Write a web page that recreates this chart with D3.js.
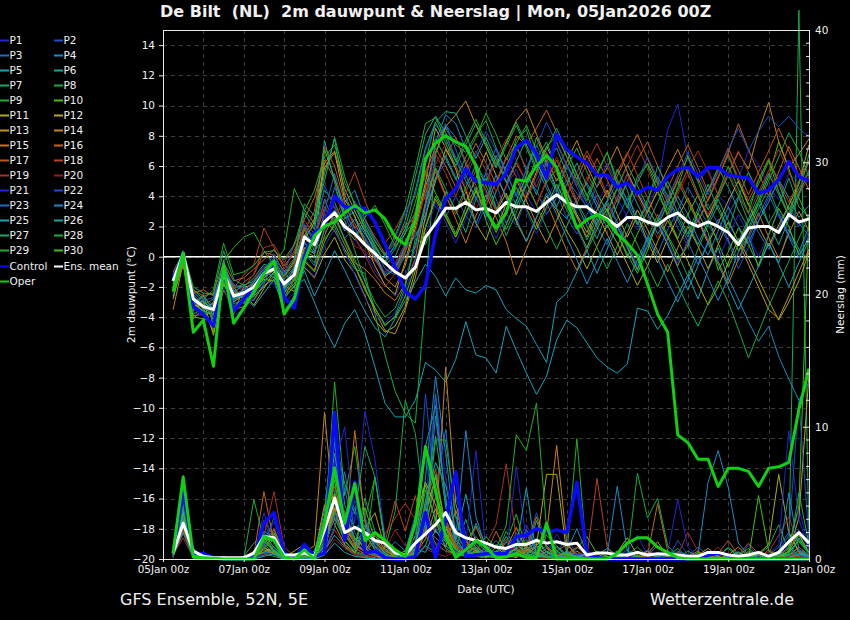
<!DOCTYPE html>
<html>
<head>
<meta charset="utf-8">
<script src="https://cdn.jsdelivr.net/npm/d3@7"></script>
<style>
  body { margin: 0; background: #000; }
  svg text { font-family: "DejaVu Sans", sans-serif; fill: #f0f0f0; }
</style>
</head>
<body>
<svg id="chart" width="850" height="620"></svg>
<script>
// ---- run info ----
const runStart = Date.UTC(2026, 0, 5, 0);
const runEnd = Date.UTC(2026, 0, 21, 0);
const stepHours = 6;
const stepCount = 64; // 05Jan 06z .. 21Jan 00z

const dateTicks = ["2026-01-05", "2026-01-07", "2026-01-09", "2026-01-11", "2026-01-13", "2026-01-15", "2026-01-17", "2026-01-19", "2026-01-21"];
const dewTicks = [-20, -18, -16, -14, -12, -10, -8, -6, -4, -2, 0, 2, 4, 6, 8, 10, 12, 14];
const rainTicks = [0, 10, 20, 30, 40];
const rainMinorTicks = [1, 2, 3, 4, 5, 6, 7, 8, 9, 12, 14, 16, 18, 22, 24, 26, 28, 31, 32, 33, 34, 35, 36, 37, 38, 39];

// ---- main runs: 2m dew point (°C) ----
const dewControl = [-1.5,0.25,-3.3,-3.8,-4.6,-0.9,-3.6,-2.8,-2.0,-1.0,-0.5,-2.7,-3.4, 0.0,1.6,2.0,4.0,3.3,3.2,3.2,2.3,0.8,-0.7,-2.3, -2.8,-1.9,1.5,3.8,4.5,5.8,5.0,4.9,4.8,5.5,7.2,7.7,6.8,5.2,8.1,7.1,6.6, 6.2,5.4,5.4,4.6,4.9,4.2,4.6,4.4,5.3,5.8,5.9,5.3,5.9,5.9,5.4,5.3,5.2,4.2,4.4,5.1,6.3,5.3,5.0];
const dewOper = [-2.3,0.25,-5.0,-4.2,-7.25,-0.6,-4.4,-3.4,-2.3,-1.1,-0.3,-3.8,-2.8, -0.3,1.4,2.0,2.3,2.9,3.4,2.9,3.1,2.5,1.3,0.8, 2.4,6.5,7.5,8.0,7.6,7.3,6.0,3.0,1.9,2.9,5.1,5.0,6.0,6.7,5.9,3.8,1.9, 2.45,2.8,2.4,1.5,0.9,0.1,-1.8,-3.8,-5.0,-11.8,-12.3,-13.4,-13.4,-15.2,-14.0,-14.0,-14.2,-15.2,-14.0,-13.9,-13.6,-10.1,-7.4];
const dewMean = [-1.6,0.2,-2.8,-3.3,-3.5,-1.1,-2.6,-2.4,-2.0,-1.1,-0.8,-1.8,-1.2, 1.3,0.8,2.3,2.9,2.0,1.5,0.8,0.2,-0.4,-1.0,-1.4, -0.7,1.3,2.2,3.2,3.2,3.6,3.1,3.2,2.9,3.6,3.3,3.3,3.0,3.6,4.1,3.6,3.3, 3.3,2.8,2.5,2.0,2.6,2.6,2.3,2.1,2.6,2.9,2.3,2.0,2.3,2.0,1.6,0.8,1.9,2.0,2.0,1.6,2.8,2.3,2.5];

// ---- main runs: 6h precipitation (mm) ----
const rainControl = [0.45,5.0,0.45,0.4,0.1,0,0,0, 0.1,2.7,3.5,0.45,0,1.1,0.2, 0.45,11.1,1.4,5.8,0.45,0.6,0.1,0,0, 0.2,3.5,0.1,2.9,6.6,0.2,0.3,0.4, 0.4,0.4,1.7,1.8,2.3,2.0,2.2,2.0,5.8, 0.4,0.1,0,0,0,0,0,0,0,0,0,0, 0.3,0.45,0.3,0,0,0,0,0,0,0,0];
const rainOper = [0.45,6.2,0.15,0.1,0.05,0,0,0, 0,1.7,1.4,0.15,0,0.7,0, 2.7,6.9,2.7,5.7,1.4,2.0,1.4,0.7,0.2, 2.7,8.5,5.2,1.7,0.1,0.7,1.4,0.9, 0.1,0.15,0.4,0.1,0.1,2.7,0,0,0, 0,0,0,0.4,1.2,1.6,1.6,0.9,0.5,0.1,0,0, 0,0,0,0,0,0,0,0,0,0,0];
const rainMean = [0.45,2.7,0.6,0.2,0.1,0.1,0.1,0.1, 0.45,1.7,1.6,0.3,0.3,0.45,0.2, 2.2,4.6,2.0,2.4,2.0,1.4,1.2,0.45,0.3, 1.2,1.9,2.6,3.5,2.0,1.6,1.4,1.2, 0.9,0.8,1.1,1.1,1.4,1.2,1.3,1.1,1.2, 0.3,0.45,0.45,0.3,0.3,0.5,0.3,0.4,0.35,0.3,0.2,0.2, 0.5,0.5,0.3,0.2,0.3,0.5,0.2,0.5,1.3,2.0,1.2];

// ---- perturbed members: dew point (°C) ----
const dewP1 = [-1.2,0.1,-3.1,-2.9,-3.8,-1.5,-3.0,-2.2,-1.6,-0.6,-1.2,-2.5,-0.8, 1.5,0.8,2.6,3.4,1.9,1.1,0.3,-0.9,-1.8,-2.6,-1.2, 0.4,3.2,5.1,6.3,5.4,4.8,5.9,4.2,3.1,4.6,5.8,4.1,2.9,3.7,5.2,4.4,3.0, 2.1,3.5,4.8,3.9,2.6,1.8,3.2,4.7,8.4,10.1,6.5,4.9,5.8,4.1,3.3,5.2,7.0,6.1,4.6,3.8,5.5,4.9,6.2];
const dewP2 = [-1.8,0.3,-2.6,-3.5,-3.2,-0.9,-2.9,-2.1,-2.4,-1.5,-0.4,-1.6,-1.5, 0.8,1.6,3.1,2.5,1.2,2.0,1.3,0.2,-1.1,-0.5,0.9, 1.8,4.5,3.3,2.6,4.0,2.7,1.9,3.4,4.9,2.8,2.1,3.9,5.0,6.4,4.2,2.6,1.5, 2.8,4.1,3.0,1.7,2.9,4.4,3.1,2.2,3.6,1.9,0.7,2.4,3.5,2.1,1.0,-0.8,0.6,2.3,3.9,4.8,3.1,2.0,2.7];
const dewP3 = [-1.4,0.0,-2.3,-3.0,-4.1,-1.3,-2.2,-2.8,-2.9,-1.8,-0.2,-0.9,-2.1, 0.3,-0.6,1.9,4.6,2.8,1.9,0.8,-0.1,-1.3,-0.8,0.4, 1.5,2.4,6.8,8.7,7.9,6.1,4.3,5.5,3.8,2.2,3.6,5.3,4.4,2.8,3.9,5.1,4.2, 3.3,2.0,0.8,2.5,3.9,2.7,1.4,0.2,1.8,3.0,4.6,3.4,2.1,1.1,2.8,4.0,2.9,1.6,0.5,1.9,3.3,2.2,1.4];
const dewP4 = [-2.0,0.2,-2.9,-3.7,-3.3,-0.6,-2.4,-3.1,-2.6,-0.9,-1.4,-2.2,-0.6, 2.1,1.2,3.8,2.1,3.6,4.4,2.5,1.1,0.0,0.6,1.8, 2.9,4.0,7.6,9.4,8.8,7.1,6.2,4.9,6.7,5.0,3.4,4.7,6.0,4.5,3.2,2.5,3.8, 4.9,3.6,2.3,3.8,5.5,4.2,2.9,1.5,2.6,4.0,2.8,1.2,0.1,1.7,3.3,2.0,0.9,2.4,3.6,5.1,3.9,2.6,3.4];
const dewP5 = [-2.2,0.1,-3.4,-3.1,-4.2,-1.6,-3.3,-2.7,-2.1,-1.3,-0.9,-2.8,-1.9, -1.5,-3.0,-4.7,-6.0,-4.4,-3.5,-5.0,-7.3,-9.7,-10.6,-10.6, -9.5,-7.0,-7.5,-8.3,-6.8,-4.3,-6.5,-6.7,-7.7,-4.6,-6.2,-7.7,-9.1,-7.9,-5.5,-4.2,-4.7, -5.7,-6.7,-7.3,-7.7,-7.1,-3.4,-3.6,-4.8,-3.9,-2.5,-1.2,-2.8,-0.9,0.6,-1.5,0.3,1.4,-0.7,0.9,-0.4,1.8,0.5,-0.3];
const dewP6 = [-1.5,0.3,-2.5,-3.2,-2.8,-1.0,-1.9,-2.0,-1.4,-0.5,-0.7,-1.1,-0.3, 2.9,1.8,5.5,7.8,4.1,2.6,1.5,0.6,-0.3,0.8,2.4, 5.3,8.1,9.3,8.2,6.4,5.0,3.9,2.6,4.3,6.0,7.4,5.7,4.1,6.3,7.2,5.5,3.6, 2.4,1.2,2.9,4.5,3.4,2.1,3.8,5.3,4.0,2.6,1.3,2.9,4.4,5.9,4.6,3.1,1.9,3.5,2.2,0.8,2.5,4.0,6.8];
const dewP7 = [-2.4,-0.2,-3.6,-2.8,-3.9,-1.9,-2.7,-2.3,-2.3,-1.7,-1.0,-2.0,-1.6, 0.5,1.3,2.2,3.0,2.4,0.4,-1.6,-3.4,-4.6,-3.9,-2.0, 1.2,0.8,2.5,4.3,3.1,1.6,3.8,5.2,3.3,1.4,2.9,4.8,6.5,7.6,5.9,4.2,2.7, 1.1,2.6,3.7,2.3,0.9,-0.6,1.2,2.8,1.4,0.2,-1.3,0.5,2.1,3.4,1.8,0.4,1.7,3.2,4.5,2.9,1.4,0.3,2.0];
const dewP8 = [-1.9,0.3,-3.0,-3.6,-3.0,-0.8,-2.1,-1.8,-2.5,-1.2,-0.3,-1.5,-0.7, 1.9,0.4,1.2,2.0,0.3,-0.8,-1.1,-3.8,-6.5,-8.9,-10.4, -11.0,-2.5,6.8,8.5,7.4,6.9,8.1,9.0,7.2,5.6,7.8,8.4,6.3,4.9,5.8,7.1,5.4, 4.0,5.6,6.9,5.1,3.7,4.9,6.2,4.8,3.1,4.4,5.8,4.2,2.6,3.9,5.4,4.0,2.3,3.5,5.0,6.6,8.2,7.0,5.3];
const dewP9 = [-2.6,-0.5,-3.3,-2.5,-4.5,-0.3,0.6,1.3,1.6,0.4,-0.6,0.5,4.5, 3.1,2.2,4.4,3.6,2.0,1.1,2.6,3.4,2.1,0.7,1.5, 3.6,6.2,7.8,6.5,5.1,6.6,7.9,9.5,8.1,6.4,7.5,8.7,7.0,5.6,4.3,5.9,7.2, 5.6,4.2,3.0,4.6,6.1,4.7,3.3,2.0,3.5,5.0,3.6,2.3,3.8,5.3,6.7,5.0,3.4,4.8,6.3,4.9,3.1,4.5,5.7];
const dewP10 = [-2.1,0.0,-3.8,-3.4,-5.0,-1.2,-2.8,-2.6,-2.0,-1.5,-1.6,-2.4,-1.8, 0.4,0.0,7.1,5.2,2.9,3.4,1.9,0.7,-0.4,-1.1,0.3, 2.8,5.7,4.2,2.9,1.5,3.3,4.6,2.4,0.8,2.1,3.7,5.4,7.9,6.2,4.5,3.1,1.9, 0.4,1.8,3.2,1.6,0.0,1.5,3.0,4.3,2.7,1.2,2.8,4.1,2.5,0.9,-0.7,0.8,2.3,3.7,5.3,7.6,5.8,3.9,2.4];
const dewP11 = [-1.7,0.1,-3.5,-2.9,-5.2,-1.8,-3.0,-2.5,-3.2,-2.1,-1.0,-1.9,-2.3, -0.7,-1.4,0.2,1.3,-0.2,-1.1,-2.6,-4.2,-5.0,-4.6,-3.3, -0.9,2.7,5.0,7.1,6.0,4.4,2.2,1.1,3.0,4.2,2.3,1.0,2.6,4.0,3.1,1.7,0.6, -0.8,0.7,2.1,0.9,-0.5,-1.9,-0.6,1.0,2.4,1.1,-0.3,-1.8,-3.2,-2.0,-0.4,1.2,-0.1,-1.5,-2.9,-4.2,-3.0,-1.6,0.3];
const dewP12 = [-1.3,0.2,-2.7,-3.9,-3.6,-0.7,-2.0,-2.9,-1.7,-0.8,-0.5,-1.3,-0.4, 1.1,2.3,5.9,6.9,3.8,2.7,0.9,-0.6,-1.9,-2.5,-0.3, 2.2,4.9,8.5,7.2,5.8,3.6,5.2,6.9,5.4,3.9,2.4,4.0,5.6,7.3,5.9,4.3,2.8, 1.6,3.1,4.4,2.8,1.3,2.7,1.0,-0.4,1.2,2.6,3.9,2.4,0.9,2.2,3.7,5.0,3.5,2.0,0.7,2.1,3.4,4.8,7.4];
const dewP13 = [-2.8,-0.1,-3.2,-3.3,-3.4,-1.4,-3.8,-2.0,-1.9,-1.0,-0.6,-2.1,-1.2, 0.6,0.2,2.4,1.7,0.5,-0.6,-2.0,-3.6,-4.9,-5.1,-3.5, -1.4,1.9,3.8,2.6,1.3,2.9,4.4,3.2,1.8,3.5,5.1,3.7,2.2,0.9,2.4,3.9,2.6, 1.3,2.9,1.5,0.1,1.6,3.1,1.8,0.4,-1.0,0.6,2.0,0.7,-0.8,0.8,2.3,1.0,-0.5,-2.0,-3.5,-4.1,-2.6,-1.0,0.5];
const dewP14 = [-3.5,-0.4,-4.1,-3.4,-3.1,-1.0,-2.3,-2.7,-2.2,-1.4,-0.9,-1.7,-0.9, 1.4,2.5,6.2,7.0,4.5,3.0,1.7,0.3,-1.4,-2.0,-0.6, 1.9,4.6,6.9,8.6,9.4,10.3,8.7,7.3,5.9,7.6,9.0,9.8,8.1,6.5,5.0,6.3,7.7, 6.0,4.6,5.9,7.3,5.6,4.2,2.9,4.4,5.8,7.1,5.5,4.0,2.6,4.1,5.5,6.9,5.8,8.3,10.2,7.6,5.9,6.8,7.8];
const dewP15 = [-2.3,-0.6,-3.9,-3.8,-4.8,-2.2,-3.5,-3.3,-2.8,-1.9,-1.5,-2.7,-1.5, -0.2,-0.9,1.4,2.9,1.1,-0.4,-0.8,-1.5,-2.4,-2.9,-1.8, -0.1,3.4,5.8,4.1,2.5,0.9,2.7,4.1,2.6,1.0,-1.2,0.5,2.1,3.6,2.0,0.4,-0.9, 0.6,2.0,3.5,2.2,0.7,-0.8,0.9,2.3,0.8,-0.6,1.0,2.5,1.1,-0.3,-1.8,-0.2,1.4,2.9,1.3,-0.1,1.5,3.0,1.7];
const dewP16 = [-1.0,0.3,-2.2,-2.6,-2.4,-0.4,-1.6,-1.4,-0.8,-0.2,0.5,-0.6,0.2, 2.5,3.9,6.4,5.1,3.3,2.2,1.0,-0.2,-1.3,-0.8,0.6, 3.0,5.6,7.2,6.0,4.6,6.1,7.5,6.2,4.8,6.5,8.0,7.4,8.5,9.7,8.2,6.6,5.1, 6.7,5.4,3.9,5.3,6.8,8.1,6.5,5.0,3.6,5.1,6.6,5.2,3.7,5.2,6.9,8.8,7.1,5.5,4.0,5.6,7.3,5.9,4.4];
const dewP17 = [-1.9,0.0,-2.4,-2.2,-2.6,-0.9,-2.5,-1.7,-1.2,0.3,0.1,-1.0,-0.1, 1.7,3.0,7.3,6.0,3.6,1.9,2.5,1.3,0.2,0.9,2.1, 2.5,4.2,5.6,4.0,2.8,4.3,5.7,4.4,3.0,4.7,6.2,4.9,3.4,5.0,6.4,5.0,3.5, 5.0,6.5,5.1,3.6,5.0,6.4,7.6,6.0,4.5,6.0,7.4,5.9,4.3,5.7,7.2,5.7,4.1,5.6,7.0,8.5,7.0,5.4,6.2];
const dewP18 = [-2.2,-0.3,-3.0,-3.1,-4.0,-1.3,-2.1,-1.2,-0.5,1.9,0.6,-0.8,0.4, 2.0,1.1,3.3,2.4,4.0,5.6,3.7,2.1,0.9,1.8,3.1, 4.0,3.8,5.2,6.6,7.9,6.3,4.7,3.4,5.0,6.6,5.3,3.8,5.4,6.9,5.5,4.0,5.6, 7.0,5.7,4.1,5.6,6.9,5.4,3.9,2.5,3.9,5.3,3.8,2.3,3.8,5.3,6.8,5.2,3.7,5.1,6.5,5.0,3.6,5.0,6.4];
const dewP19 = [-1.1,0.2,-2.9,-2.7,-3.2,-0.5,-2.0,-2.1,-1.1,0.6,0.8,-0.4,0.7, 2.4,1.5,3.6,4.1,2.7,1.3,0.1,-1.2,-2.0,-1.1,0.4, 2.9,5.4,6.8,5.5,4.0,5.7,7.0,5.7,4.3,5.8,7.2,5.9,4.6,6.2,7.6,6.1,4.7, 6.2,7.5,6.0,4.5,6.0,7.4,5.8,4.3,2.9,4.3,5.8,7.0,5.6,4.1,5.5,7.0,5.6,4.2,5.7,7.1,5.6,4.1,5.3];
const dewP20 = [-1.4,0.0,-3.3,-2.4,-3.7,-1.7,-2.6,-2.6,-1.5,-0.7,-0.4,-1.4,-0.5, 1.2,0.6,2.8,3.3,2.0,0.7,0.4,-0.3,-1.0,-0.4,0.8, 1.6,4.3,6.1,7.5,6.0,4.5,3.1,4.8,6.4,7.8,6.4,4.9,3.5,5.1,6.6,5.2,3.8, 5.3,3.9,2.5,4.0,5.4,4.0,2.6,1.2,2.7,4.1,5.5,4.1,2.8,4.2,5.6,4.2,2.8,4.3,5.7,4.3,2.9,4.4,5.8];
const dewP21 = [-2.5,0.1,-3.7,-3.9,-4.4,-2.0,-3.9,-3.5,-2.7,-1.6,-1.8,-3.0,-2.4, -0.6,-1.3,0.7,1.8,0.4,-1.2,-2.7,-3.8,-4.4,-3.7,-2.3, -0.2,1.4,3.6,2.3,0.9,2.5,4.0,2.7,1.2,2.8,4.3,3.0,1.5,3.1,4.6,3.3,1.8, 0.5,2.0,3.6,2.2,0.8,-0.6,0.9,2.4,1.0,-0.4,1.1,2.6,1.2,-0.2,1.3,2.8,1.4,0.0,1.5,3.0,1.6,0.2,1.7];
const dewP22 = [-1.6,0.3,-2.4,-2.9,-2.7,-0.8,-1.8,-2.3,-1.9,-1.0,0.2,-1.2,0.9, 2.2,1.0,4.7,3.2,1.8,3.7,2.4,1.1,0.0,1.2,2.9, 4.1,7.0,8.7,8.0,6.6,5.2,6.8,8.3,7.0,5.5,4.1,5.7,7.3,8.9,7.5,6.0,4.6, 3.2,4.7,6.2,4.8,3.4,5.0,6.6,5.2,3.8,5.4,6.9,5.5,4.1,5.6,7.1,8.5,7.0,8.3,9.3,8.6,9.3,8.5,7.9];
const dewP23 = [-2.0,-0.2,-3.0,-3.2,-3.9,-1.1,-2.9,-2.4,-2.2,-1.1,-1.2,-2.3,-1.0, 1.0,0.2,3.0,5.5,3.2,1.5,2.0,0.5,-0.8,-1.2,0.1, 0.6,3.5,7.4,8.8,7.1,5.4,3.8,5.6,7.2,5.6,4.0,5.8,7.4,6.0,4.4,6.1,4.9, 3.5,2.1,3.6,5.0,3.7,2.3,0.9,2.4,3.8,2.4,1.0,-0.5,1.0,2.5,1.1,-0.3,1.2,2.7,4.1,2.7,1.3,-0.1,1.4];
const dewP24 = [-1.8,0.2,-2.6,-3.5,-3.0,-0.6,-2.3,-1.9,-2.4,-1.1,-0.8,-1.8,-0.8, 0.9,0.3,2.3,3.1,1.7,2.5,1.2,0.0,-1.2,-0.7,0.7, 1.3,2.8,5.2,6.7,5.2,3.7,2.2,3.8,5.4,4.0,2.5,1.0,2.6,4.2,2.8,1.3,-0.2, -1.8,-0.3,1.2,-0.3,-1.7,-0.2,1.3,-0.1,-1.6,-3.0,-1.5,0.0,-1.4,-2.9,-1.4,-2.8,-4.3,-5.6,-4.6,-6.6,-8.1,-9.5,-8.3];
const dewP25 = [-1.5,0.1,-3.1,-2.6,-3.5,-1.2,-2.7,-2.6,-3.3,-2.4,-1.5,-3.6,-2.6, -0.9,-2.6,-1.2,0.4,-0.9,-2.3,-3.6,-4.7,-5.3,-4.1,-2.9, -1.7,-0.5,-1.3,-2.6,-1.4,-2.2,-2.4,-1.9,-2.2,-3.5,-4.1,-4.6,-5.8,-7.0,-3.0,-2.4,-1.0, 0.4,-1.1,0.5,2.0,0.6,-0.9,0.7,2.2,0.8,-0.7,-2.2,-0.6,0.9,-0.5,-2.0,-3.5,-2.1,-0.6,0.9,-0.5,-2.0,-0.4,1.1];
const dewP26 = [-2.3,0.2,-2.8,-3.0,-3.4,-0.2,-2.5,-2.2,-1.7,-0.9,-0.1,-2.0,-1.1, 1.3,2.1,7.7,4.9,2.5,3.0,1.7,0.4,-0.5,0.0,1.6, 2.4,6.3,8.9,9.6,9.5,8.0,6.5,7.9,6.4,4.9,6.3,7.8,6.3,4.8,3.3,4.8,6.2, 4.7,3.3,1.9,3.4,4.9,3.5,2.1,3.6,5.0,3.6,2.2,0.8,2.3,3.8,2.4,1.0,2.5,4.0,5.5,4.1,2.7,4.2,5.6];
const dewP27 = [-1.2,0.4,-2.0,-2.4,-2.5,0.4,-1.5,-1.9,-1.6,-0.8,-0.2,-1.3,-0.2, 3.5,2.7,5.0,7.9,5.3,3.4,2.0,0.8,-0.4,0.5,1.9, 4.4,7.2,8.9,7.5,6.0,7.4,8.8,7.4,5.9,7.3,8.7,7.2,5.7,7.1,8.5,7.0,5.5, 4.1,2.4,3.7,5.8,4.4,2.1,3.5,6.0,4.6,2.9,1.5,3.2,4.8,3.1,1.7,3.9,5.6,4.0,2.2,3.4,5.2,3.3,2.6];
const dewP28 = [-2.1,0.0,-3.2,-3.6,-3.8,-1.4,-3.1,-2.9,-2.4,-1.6,-1.1,-2.4,-1.4, 0.3,-0.4,1.8,2.6,1.2,-0.2,-1.6,-3.0,-4.0,-3.4,-1.8, 0.8,3.6,5.9,4.5,3.0,4.6,6.1,4.7,3.2,1.8,3.3,4.9,3.4,1.9,0.5,2.0,3.5, 2.0,0.6,-0.8,0.7,2.2,0.8,-0.6,-2.0,-0.5,-1.9,-3.3,-4.6,-3.1,-1.6,-3.0,-4.8,-6.7,-5.0,-3.3,-1.8,-0.3,1.2,2.7];
const dewP29 = [-1.6,0.3,-2.2,-2.8,-2.2,0.9,-1.2,-1.0,-0.6,0.3,0.4,-0.2,0.8, 3.0,4.4,6.6,7.4,4.9,3.5,2.2,1.0,0.1,1.4,3.1, 5.8,8.8,9.2,7.8,6.3,7.7,9.1,7.6,6.1,7.5,8.9,7.4,5.9,7.3,8.0,6.6,5.1, 3.7,5.4,6.9,4.8,3.2,5.3,6.1,4.4,2.8,4.6,6.7,5.0,3.1,4.2,6.0,4.5,2.9,5.1,6.4,4.3,2.7,4.9,6.3];
const dewP30 = [-2.7,-0.3,-4.0,-4.1,-4.3,-1.7,-3.4,-3.0,-2.6,-2.0,-1.3,-2.6,-2.0, -0.3,-1.0,1.0,2.2,0.8,-0.6,-2.2,-3.4,-4.5,-4.0,-2.6, -0.6,2.0,4.0,2.7,1.3,2.8,4.3,3.0,1.6,3.1,4.6,3.2,1.8,3.3,4.8,3.4,2.0, 0.6,2.3,3.1,1.5,0.2,-1.1,0.4,2.5,1.3,-0.2,0.7,2.9,1.6,-0.9,0.3,1.9,0.8,-0.6,1.4,3.2,2.0,0.1,1.2];

// ---- perturbed members: 6h precipitation (mm) ----
const rainP1 = [0.3,3.8,0.4,0.1,0,0,0,0, 0.2,1.5,2.8,0.6,0,0.3,0.1, 1.2,7.5,3.1,1.0,2.4,0.8,0.3,0.1,0, 0.9,4.2,12.4,6.1,2.2,0.7,1.5,0.4, 0.2,0.5,1.1,2.6,0.8,0.3,1.9,0.6,0.1, 0,0,0.2,0,0.5,1.8,0.3,0,0,0,0.1,0, 0,0,0.2,0.6,0.1,0,0,0.3,1.2,3.8,0.9];
const rainP2 = [0.5,4.6,0.2,0,0.1,0,0,0, 0.5,2.6,1.3,0.2,0.1,0.8,0, 0.4,5.2,1.8,3.9,1.1,0.4,0,0,0.2, 2.4,7.8,3.3,1.4,4.8,1.9,0.6,0.2, 0.6,1.3,0.4,0.9,3.5,1.2,0.4,0.1,0, 0,0.1,0,0.3,0,0,0.6,0.2,0,1.4,0.3,0, 0,0.4,0,0,1.1,0.2,0,0,0.5,2.2,0.8];
const rainP3 = [0.2,2.1,0.6,0.2,0,0,0,0.1, 0.1,0.6,0.3,0,0,0.2,0.1, 0.8,3.4,6.6,2.0,0.7,1.3,0.5,0,0, 0.3,2.9,5.3,9.8,3.1,0.8,0.3,0.6, 1.4,0.5,2.0,0.9,0.3,0.8,0.2,0,0.3, 0,0,0,0.1,0.7,0.2,0,0,0,0,0.2,0.9, 0.3,0,0,0.1,0,0,0.3,0.9,2.0,0.6,0.2];
const rainP4 = [0.4,3.2,0.3,0,0,0.2,0,0, 0,0.3,0.7,0.1,0,0,0.3, 1.9,8.8,2.5,1.2,0.6,0.2,0.1,0,0, 0.5,6.1,13.8,8.0,1.6,0.4,2.7,1.0, 0.3,0.2,0.9,2.2,1.0,0.3,0.1,0.6,2.3, 0.4,0,0,0,0.1,0,0.3,1.0,0.4,0,0,0.2, 0.6,0.1,0,0,0.4,0,0,0,0.2,0.9,0.3];
const rainP5 = [0.6,2.7,0.1,0.1,0,0,0.1,0, 0.3,1.1,0.4,0,0,0,0, 0.6,1.8,0.9,0.3,0.1,0,0,0,0.1, 0.2,1.0,0.5,2.6,1.4,4.9,1.1,0.3, 0.2,0.6,1.6,0.4,0.1,0.3,0.9,0.2,0, 0,0.3,0.8,0.2,0,0,0,0.1,0.5,0.1,0,0, 0,0,0.3,0.1,0,0,0,0,0.1,0.4,0.2];
const rainP6 = [0.2,4.1,0.5,0,0,0,0,0, 0.4,2.1,1.6,0.3,0,0.4,0.2, 3.7,10.5,4.1,2.3,3.0,1.2,0.4,0.1,0, 1.1,8.5,11.6,4.4,1.2,0.5,0.9,0.3, 0.4,1.7,0.6,0.2,2.9,0.8,0.2,0,0.1, 0,0,0.1,0.6,0.2,0,0,0,0.2,0.8,0.1,0, 0,0.2,0.9,0.3,0,0,0,0.4,0.1,1.6,0.5];
const rainP7 = [0.1,3.5,0.2,0.1,0,0,0,0, 0,1.2,2.2,0.5,0,0.1,0, 0.5,4.3,2.2,0.9,4.6,2.1,0.6,0.2,0, 0.6,3.5,2.1,1.3,0.8,3.0,0.7,0.2, 0.1,0.3,0.8,1.5,0.4,0.1,0.5,0.2,0, 0,0,0,0,0.3,0.9,0.2,0,0,0,0.6,0.2, 0,0,0.1,0,0,0,0.2,0.6,0.2,0,0.1];
const rainP8 = [0.3,2.9,0.3,0,0,0,0,0, 0.6,0.4,0.2,0,0,0.3,0.1, 1.0,3.1,1.4,0.5,0.2,0.1,0.8,3.6,12.0, 9.5,3.2,1.1,0.6,0.4,0.2,1.3,0.6, 0.3,2.1,0.7,0.2,0.5,1.0,0.3,0.1,0, 0.2,0.6,0.1,0,0,0.3,0,0,0,0.1,0,0, 0,0.3,0.8,0.2,0,0.4,0.9,2.6,0.5,41.5,1.2];
const rainP9 = [0.4,5.1,0.8,0.1,0,0,0,0.2, 1.2,1.9,0.6,0.1,0.2,0.9,0.1, 2.1,13.4,4.8,8.5,3.0,6.2,1.2,0.3,0.1, 0.7,2.5,9.0,9.0,3.3,1.1,0.6,0.2, 0.5,1.2,3.4,0.7,0.2,1.8,1.0,0.3,9.1, 0,0.1,0,0.2,0,0,0.4,0.1,0,0,0,0.2, 0,0,0,0.3,0.8,0.2,0,0.1,0.6,1.3,0.4];
const rainP10 = [0.2,2.4,0.1,0,0,0,0,0, 0.1,0.8,0.5,0,0,0,0.4, 1.5,6.0,1.0,0.4,1.9,0.7,0.2,0,0, 1.8,5.6,2.9,0.8,0.3,1.2,2.5,0.6, 0.1,0.4,0.2,1.3,0.5,0.1,0,0.3,0.8, 1.7,0.4,0,0,0,0.1,0,0,0.2,0,0,0, 0,0,0.1,0.5,0.2,0,0,0.3,0.9,4.0,26.0];
const rainP11 = [0.3,3.0,0.2,0.1,0.2,0,0,0, 0.3,0.9,0.4,0.1,0.6,1.1,0.2, 0.9,3.9,2.7,1.1,0.5,0.2,0.1,0.3,0.6, 2.9,5.8,4.1,2.0,0.7,0.3,0.2,0.9, 0.4,0.2,0.8,0.3,1.0,6.4,6.4,0.4,0.1, 0,0,0,0.5,1.6,0.3,0,0,0,0,0.2,0, 0,0.1,0,0,0,0.4,1.1,6.4,2.0,0.5,0.2];
const rainP12 = [0.5,3.6,0.4,0,0,0.1,0,0, 0.2,1.4,2.0,0.3,0,0.1,0, 0.7,4.8,3.5,1.6,0.8,0.3,0.1,0,0.2, 1.3,3.4,6.2,2.5,1.0,0.4,0.2,0.1, 0.9,0.3,0.1,0.6,1.4,0.5,0.2,0,0, 0.3,0.1,0,0,0,0.2,0.6,0.1,0,0,0,0, 0.2,0,0,0,0.1,0.3,0,0,0.6,3.1,14.0];
const rainP13 = [0.6,4.4,0.5,0.2,0,0,0,0.1, 0.3,0.5,0.9,0.2,0,0.4,0.3, 4.1,2.6,1.1,0.5,2.3,3.5,0.8,0.2,0, 0.4,1.5,3.8,1.9,0.6,0.2,0.7,0.3, 0.2,0.5,1.2,0.4,0.9,0.3,0.1,0.2,0.6, 0.1,0,0,0,0.2,0.5,0.1,0,0,0,0,0.3, 0.8,0.2,0,0,0,0,0.2,0.4,0.1,0,0];
const rainP14 = [0.8,6.3,0.6,0.1,0,0,0,0, 0.2,0.7,0.4,0,0,0.5,1.0, 11.1,3.0,2.2,1.3,0.6,1.8,0.7,0.1,0, 0.8,3.1,2.0,14.5,4.2,1.3,0.5,0.2, 0.3,0.8,2.4,0.6,1.0,1.9,8.6,1.2,0.3, 0,0,0.2,0,0,0.1,0.4,1.3,0.2,0,0,0, 0,0,0.3,0.9,0.2,0,0,0,0.1,0.6,0.3];
const rainP15 = [0.4,3.3,0.3,0,0,0,0,0, 0.1,2.9,1.7,0.4,0,0.2,0, 0.6,3.8,1.5,9.7,2.8,1.0,0.3,0.1,0, 0.5,2.2,1.6,0.9,3.7,1.4,0.5,0.2, 0.1,0.6,0.3,0.9,0.4,0.2,0.6,1.1,0.3, 0.2,0,0,0,0.4,0,0,0,0.1,0,0.2,0.6, 0.1,0,0,0.2,0,0,0.7,0.2,0,0.3,0.1];
const rainP16 = [0.3,2.5,0.2,0,0,0,0.1,0, 0.3,5.1,1.2,0.3,0,0,0.2, 1.0,4.6,2.1,0.8,0.4,1.5,0.6,0.2,0, 0.3,1.9,4.7,3.0,1.1,0.4,0.9,0.4, 2.1,0.5,0.2,0.7,3.2,0.9,0.3,0.1,0, 0,0.2,0,0,0,0,0.3,4.2,0.6,0,0,0, 0.1,0,0,0,0.5,0.2,0,0.1,0.3,0.9,0.2];
const rainP17 = [0.5,3.9,0.4,0.1,0,0,0,0, 0.2,1.0,2.3,0.5,0.1,0.3,0.1, 2.9,5.5,2.6,1.2,0.5,0.2,0,0,0.1, 0.6,4.0,6.8,2.4,0.9,0.3,1.7,0.8, 0.3,0.1,0.4,1.9,0.6,0.2,0.1,0.4,0.9, 0.3,0.1,0,0,0,0.6,0.2,0,0,0,0.1,0, 0,0.4,1.4,0.3,0,0,0,0.2,0.8,1.9,0.5];
const rainP18 = [0.2,2.2,0.3,0,0,0.1,0,0, 0.4,0.8,1.5,0.2,0,0.6,0.1, 1.6,2.9,3.7,0.9,0.3,0.1,1.3,4.4,2.1, 4.8,1.8,0.7,2.8,1.0,0.3,0.2,0.5, 0.2,1.5,0.6,0.2,0.1,0.8,0.3,0.5,0.4, 0.2,6.1,0.9,0.2,0,0,0,0,0.1,0.5,0.2,0, 0,0,0,0.3,1.2,0.4,0,0,0.1,0.2,0];
const rainP19 = [0.3,1.6,0.1,0,0,0,0,0.1, 0.6,1.7,5.1,0.9,0.2,0,0, 0.5,2.2,1.0,0.4,0.2,0.6,1.9,3.1,4.2, 3.0,2.1,1.2,0.6,0.3,0.8,2.4,1.1, 2.6,7.2,1.5,0.4,0.1,0.3,0.2,0.1,0.3, 0.6,0.2,0,0,0.1,0,0,0,0,0.3,2.0,0.6, 0.2,0,0,0,0.1,0.2,0.5,1.8,3.2,0.9,0.2];
const rainP20 = [0.2,1.9,0.2,0,0,0,0,0, 0.1,0.4,0.3,0.1,0,0,0.1, 0.3,1.5,0.8,0.3,0.1,0.2,0.7,2.2,1.0, 1.5,0.8,0.4,0.2,0.6,0.9,0.3,0.1, 0.2,0.5,0.9,0.2,0.1,0,0.4,0.2,0, 0,0,0.1,0,0,0,0,0.2,0.1,0,0,0, 0.3,0.9,0.2,0,0,0,0,0.1,0.2,0.6,0.3];
const rainP21 = [0.4,4.9,0.5,0.2,0,0,0,0, 0.2,3.5,1.1,0.2,0,0.8,0.2, 1.4,7.0,10.0,2.7,11.2,7.5,1.6,0.4,0.1, 0.2,1.1,2.4,1.0,0.5,1.2,8.2,0.7, 0.3,0.2,7.0,1.4,0.5,0.2,0.1,0,0.4, 0.1,0,0,0,0.3,0,0,0,0.5,4.5,0.9,0.2, 0,0,0,0.1,0,0.2,0.4,1.1,9.7,3.0,0.6];
const rainP22 = [0.3,3.4,0.2,0,0.1,0,0,0, 0.3,2.0,0.8,0.1,0,0.2,0, 0.9,3.3,1.6,4.4,3.2,1.0,0.3,0.1,0.4, 1.6,12.5,5.0,1.7,0.6,0.3,0.2,0.9, 0.4,0.2,0.6,2.1,0.7,0.2,0.5,1.6,0.4, 0.2,0,0,0,0,0.2,0.7,0.2,0,0,0,0.4, 0.1,0,0,0,0.3,0.1,0,0.6,1.8,12.0,1.4];
const rainP23 = [0.2,2.7,0.3,0.1,0,0,0,0, 0.2,0.9,3.2,0.4,0,0,0.1, 0.6,2.4,5.4,1.3,0.6,0.2,0.5,1.3,0.6, 3.3,1.7,12.5,3.9,1.2,0.5,0.3,0.1, 0.6,0.9,0.3,0.1,0.2,0.5,0.2,0.1,0.3, 0,0,0.2,0,0,0,0.1,0,0,0.6,0.2,0, 0,0,0.1,0.4,0.1,0,0,0.2,0.9,0.3,0.1];
const rainP24 = [0.5,3.1,0.2,0,0,0,0,0.2, 0.1,0.5,0.6,0,0,0.1,0, 2.2,6.7,1.9,0.7,2.6,0.9,0.3,0,0, 0.6,2.6,10.8,4.6,1.5,9.7,3.2,0.8, 0.3,0.1,0.5,0.2,1.6,0.5,0.1,0.6,0.2, 0.4,0.1,0.3,5.5,0.6,0.1,0,0.2,0.4,0.1,0,0.3, 5.8,8.2,5.4,1.2,0.3,0.1,0,0.2,5.0,0.7,0.3];
const rainP25 = [0.3,2.0,0.1,0,0,0,0,0, 0,0.2,0.4,0,0,0,0, 0.3,1.2,0.5,0.2,0.1,0,0,0,0.3, 0.8,0.5,2.2,1.0,0.4,0.2,0.6,0.3, 0.1,0.3,0.8,5.4,0.2,0.1,0.3,0.1,0, 0.5,0.2,0,0,0,0.1,0,0,0,0,0.3,0.1, 0,0,0.2,0.5,0.1,0,0,0,0.1,0.4,0.2];
const rainP26 = [0.4,3.7,0.3,0.1,0,0,0,0, 0.2,1.3,0.7,0.1,0,0.2,0.3, 2.6,8.0,3.3,1.5,1.0,0.4,0.1,0,0, 0.4,4.4,7.3,5.6,2.0,0.6,0.3,0.4, 1.1,0.4,0.2,0.8,0.3,0.1,0.2,0.5,0.2, 0,0,0,0.1,0.4,0.2,0,0,0.3,0,0,0, 0.2,0,0,0,0.6,0.3,0,0,0.4,1.5,0.5];
const rainP27 = [0.6,5.5,0.6,0.2,0,0,0,0, 0.3,1.8,0.9,0.2,0,0.1,0.6, 3.2,9.2,5.7,3.4,8.5,6.2,1.5,0.2,0, 0.3,3.7,9.3,4.0,1.4,0.5,0.8,0.2, 0.2,0.6,1.5,0.4,0.2,0.3,1.0,0.3,0.1, 0,0,0.1,0,0,0,0,0.2,0,0.1,0,0, 0,0,0,0.2,0.4,0.1,0,0,0.3,0.6,0.2];
const rainP28 = [0.3,2.6,0.2,0,0,0,0,0, 4.5,1.4,0.5,0.1,0,0.3,0, 1.1,3.6,1.3,0.6,0.3,6.2,1.0,0.2,0, 0.1,1.0,3.2,1.6,0.7,0.2,0.3,0.1, 0.6,0.2,0.4,1.3,0.5,0.2,0.1,0,0.2, 0.3,0.1,0,0.2,0,6.5,3.1,4.6,1.0,0.2,0,0.3, 0.1,0,0,0,0.2,0.1,0,0.4,0.3,5.0,1.1];
const rainP29 = [0.5,4.0,0.4,0.1,0,0,0,0, 0.2,0.8,1.9,0.3,0,0.2,0.1, 1.7,6.3,2.9,1.4,2.0,0.7,0.2,0,0.1, 1.0,5.2,3.0,1.3,0.5,0.2,0.6,1.7, 0.8,2.5,9.4,8.2,11.8,2.3,0.6,0.2,0.1, 0,0,0,0.3,0,0,0,0.1,0,0,0,0, 0.2,0,0,0.3,0,0,0.1,0.2,0.5,1.4,0.4];
const rainP30 = [0.3,3.4,0.3,0,0,0,0,0, 0.1,1.6,0.6,0.1,0,0.4,0.2, 1.3,5.0,1.8,0.8,3.9,1.4,0.4,0.1,0, 0.5,2.0,6.4,2.3,0.8,0.3,0.5,0.2, 0.3,0.5,0.7,0.3,0.1,0.6,0.2,0.4,0.1, 0,0,0.2,0,0,0.2,0,0.1,0,0,0,0.5, 0.2,0,0,0,0,4.8,0.6,0.2,0.6,1.8,0.5];

const memberNames = d3.range(1, 31).map(n => "P" + n);
const memberDew = [dewP1, dewP2, dewP3, dewP4, dewP5, dewP6, dewP7, dewP8, dewP9, dewP10, dewP11, dewP12, dewP13, dewP14, dewP15, dewP16, dewP17, dewP18, dewP19, dewP20, dewP21, dewP22, dewP23, dewP24, dewP25, dewP26, dewP27, dewP28, dewP29, dewP30];
const memberRain = [rainP1, rainP2, rainP3, rainP4, rainP5, rainP6, rainP7, rainP8, rainP9, rainP10, rainP11, rainP12, rainP13, rainP14, rainP15, rainP16, rainP17, rainP18, rainP19, rainP20, rainP21, rainP22, rainP23, rainP24, rainP25, rainP26, rainP27, rainP28, rainP29, rainP30];

// member colours cycle every 20 (blue -> green -> yellow -> red)
const palette = ["#2424cc", "#1c4cc8", "#1c6cc4", "#1c8ac8", "#18a2b8", "#18a48c", "#18a664", "#18ac44", "#22b022", "#40c010",
                 "#acac14", "#bca418", "#c29412", "#c88418", "#c87414", "#c46414", "#c05618", "#b84418", "#a83024", "#981e1e"];
const colorControl = "#0a0aff";
const colorOper = "#10d010";
const colorMean = "#ffffff";

// ---- layout ----
const svg = d3.select("#chart");
const W = 850, H = 620;
const plot = { left: 163, right: 809, top: 30, bottom: 559 };

svg.append("rect").attr("width", W).attr("height", H).attr("fill", "#000");

const times = d3.range(stepCount).map(i => new Date(runStart + (i + 1) * stepHours * 3600e3));

const x = d3.scaleUtc().domain([new Date(runStart), new Date(runEnd)]).range([plot.left, plot.right]);
const yDew = d3.scaleLinear().domain([-20, 15]).range([plot.bottom, plot.top]);
const yRain = d3.scaleLinear().domain([0, 40]).range([plot.bottom, plot.top]);

// grid
const grid = svg.append("g").attr("stroke", "#3c3c3c").attr("stroke-width", 1).attr("stroke-dasharray", "4,4");
grid.selectAll("line.h")
  .data(dewTicks.filter(v => v > -20))
  .enter().append("line")
  .attr("x1", plot.left).attr("x2", plot.right)
  .attr("y1", d => Math.round(yDew(d)) + 0.5).attr("y2", d => Math.round(yDew(d)) + 0.5);
grid.selectAll("line.v")
  .data(d3.utcDay.range(new Date(runStart + 864e5), new Date(runEnd)))
  .enter().append("line")
  .attr("y1", plot.top).attr("y2", plot.bottom)
  .attr("x1", d => Math.round(x(d)) + 0.5).attr("x2", d => Math.round(x(d)) + 0.5);

// zero line
svg.append("line")
  .attr("x1", plot.left).attr("x2", plot.right)
  .attr("y1", yDew(0)).attr("y2", yDew(0))
  .attr("stroke", "#fff").attr("stroke-width", 1.5);

// lines
const dewLine = d3.line().x((d, i) => x(times[i])).y(d => yDew(d));
const rainLine = d3.line().x((d, i) => x(times[i])).y(d => yRain(d));

const members = svg.append("g").attr("fill", "none").attr("stroke-width", 1).attr("stroke-linejoin", "miter");
memberDew.forEach((series, k) => {
  const c = palette[k % 20];
  members.append("path").attr("d", dewLine(series)).attr("stroke", c);
  members.append("path").attr("d", rainLine(memberRain[k])).attr("stroke", c);
});

const mains = svg.append("g").attr("fill", "none").attr("stroke-linejoin", "round");
[
  { dew: dewControl, rain: rainControl, color: colorControl, w: 3.5 },
  { dew: dewMean, rain: rainMean, color: colorMean, w: 3 },
  { dew: dewOper, rain: rainOper, color: colorOper, w: 3 }
].forEach(s => {
  mains.append("path").attr("d", dewLine(s.dew)).attr("stroke", s.color).attr("stroke-width", s.w);
  mains.append("path").attr("d", rainLine(s.rain)).attr("stroke", s.color).attr("stroke-width", s.w);
});

// frame
svg.append("rect")
  .attr("x", plot.left + 0.5).attr("y", plot.top + 0.5)
  .attr("width", plot.right - plot.left).attr("height", plot.bottom - plot.top)
  .attr("fill", "none").attr("stroke", "#e8e8e8").attr("stroke-width", 1);

// axes
function styleAxis(g) {
  g.select(".domain").remove();
  g.selectAll(".tick line").attr("stroke", "#e8e8e8");
  g.selectAll(".tick text").attr("fill", "#f0f0f0").attr("font-size", 10.5).attr("font-family", "DejaVu Sans, sans-serif");
}

svg.append("g")
  .attr("transform", `translate(${plot.left},0)`)
  .call(d3.axisLeft(yDew).tickValues(dewTicks).tickSize(4).tickPadding(4))
  .call(styleAxis);

svg.append("g")
  .attr("transform", `translate(0,${plot.bottom})`)
  .call(d3.axisBottom(x)
    .tickValues(dateTicks.map(s => new Date(s + "T00:00Z")))
    .tickFormat(d3.utcFormat("%d%b %Hz"))
    .tickSize(3).tickPadding(4))
  .call(styleAxis);

svg.append("g")
  .attr("transform", `translate(${plot.right},0)`)
  .call(d3.axisRight(yRain).tickValues(rainTicks).tickSize(-6).tickPadding(6))
  .call(styleAxis);

svg.append("g")
  .selectAll("line")
  .data(rainMinorTicks)
  .enter().append("line")
  .attr("x1", plot.right - 3).attr("x2", plot.right)
  .attr("y1", d => yRain(d)).attr("y2", d => yRain(d))
  .attr("stroke", "#e8e8e8");

// axis titles
svg.append("text")
  .attr("transform", `translate(135,${(plot.top + plot.bottom) / 2}) rotate(-90)`)
  .attr("text-anchor", "middle").attr("font-size", 10.5)
  .text("2m dauwpunt (°C)");
svg.append("text")
  .attr("transform", `translate(844,${(plot.top + plot.bottom) / 2}) rotate(-90)`)
  .attr("text-anchor", "middle").attr("font-size", 10.5)
  .text("Neerslag (mm)");
svg.append("text")
  .attr("x", x(new Date("2026-01-13T00:00Z"))).attr("y", 593)
  .attr("text-anchor", "middle").attr("font-size", 10.5)
  .text("Date (UTC)");

// title + footer
svg.append("text")
  .attr("x", 160).attr("y", 17)
  .attr("font-size", 16).attr("font-weight", "bold")
  .text("De Bilt  (NL)  2m dauwpunt & Neerslag | Mon, 05Jan2026 00Z")
  .style("white-space", "pre");
svg.append("text")
  .attr("x", 120).attr("y", 605).attr("font-size", 16)
  .text("GFS Ensemble, 52N, 5E");
svg.append("text")
  .attr("x", 650).attr("y", 605).attr("font-size", 16)
  .text("Wetterzentrale.de");

// legend
const legendItems = memberNames.map((name, k) => ({ name, color: palette[k % 20], col: k % 2, row: Math.floor(k / 2) }))
  .concat([
    { name: "Control", color: colorControl, col: 0, row: 15 },
    { name: "Ens. mean", color: colorMean, col: 1, row: 15 },
    { name: "Oper", color: colorOper, col: 0, row: 16 }
  ]);
const legend = svg.append("g");
const rowY = r => 39 + r * 15 + (r >= 15 ? 1 : 0);
const colX = [0, 54];
legendItems.forEach(it => {
  const yy = rowY(it.row);
  legend.append("line")
    .attr("x1", colX[it.col]).attr("x2", colX[it.col] + 9)
    .attr("y1", yy + 1.5).attr("y2", yy + 1.5)
    .attr("stroke", it.color).attr("stroke-width", 2);
  legend.append("text")
    .attr("x", colX[it.col] + 9.5).attr("y", yy + 5)
    .attr("font-size", 10.5)
    .text(it.name);
});
</script>
</body>
</html>
